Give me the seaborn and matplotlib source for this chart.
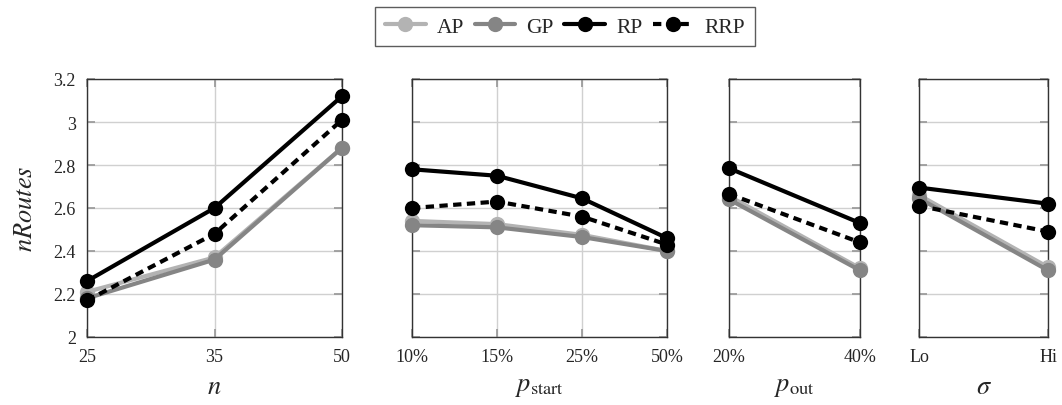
import pandas as pd
import seaborn as sns
import matplotlib.pyplot as plt
from matplotlib.lines import Line2D

sns.set_theme(style="whitegrid")
plt.rcParams['font.family'] = ['Liberation Serif', 'DejaVu Serif']
plt.rcParams['mathtext.fontset'] = 'stix'

# Values
methods = ['AP', 'GP', 'RP', 'RRP']

n_cats = ['25', '35', '50']
n_AP = [2.21, 2.37, 2.88]
n_GP = [2.18, 2.36, 2.88]
n_RP = [2.26, 2.60, 3.12]
n_RRP = [2.17, 2.48, 3.01]

pstart_cats = ['10%', '15%', '25%', '50%']
pstart_AP = [2.54, 2.525, 2.475, 2.40]
pstart_GP = [2.52, 2.51, 2.465, 2.40]
pstart_RP = [2.78, 2.75, 2.645, 2.46]
pstart_RRP = [2.60, 2.63, 2.56, 2.43]

pout_cats = ['20%', '40%']
pout_AP = [2.655, 2.32]
pout_GP = [2.64, 2.31]
pout_RP = [2.785, 2.53]
pout_RRP = [2.665, 2.44]

sigma_cats = ['Lo', 'Hi']
sigma_AP = [2.66, 2.325]
sigma_GP = [2.645, 2.31]
sigma_RP = [2.695, 2.62]
sigma_RRP = [2.61, 2.49]

yticks = [2, 2.2, 2.4, 2.6, 2.8, 3, 3.2]


def to_long(cats, ap, gp, rp, rrp):
    rows = []
    for name, vals in zip(methods, [ap, gp, rp, rrp]):
        for c, v in zip(cats, vals):
            rows.append({'x': c, 'value': v, 'method': name})
    return pd.DataFrame(rows)


panels = [
    (to_long(n_cats, n_AP, n_GP, n_RP, n_RRP), r'$n$'),
    (to_long(pstart_cats, pstart_AP, pstart_GP, pstart_RP, pstart_RRP), r'$p_{\mathrm{start}}$'),
    (to_long(pout_cats, pout_AP, pout_GP, pout_RP, pout_RRP), r'$p_{\mathrm{out}}$'),
    (to_long(sigma_cats, sigma_AP, sigma_GP, sigma_RP, sigma_RRP), r'$\sigma$'),
]

palette = {'AP': '#b3b3b3', 'GP': '#858585', 'RP': 'black', 'RRP': 'black'}
dashes = {'AP': '', 'GP': '', 'RP': '', 'RRP': (2, 1.3)}

W, H = 1062, 406
fig = plt.figure(figsize=(W / 100, H / 100), dpi=100)
boxes = [(87, 255), (412, 255), (729, 131), (919, 129)]
top, bottom = 80, 338

for i, ((df, xlabel), (left, width)) in enumerate(zip(panels, boxes)):
    ax = fig.add_axes([left / W, (H - bottom) / H, width / W, (bottom - top) / H])
    sns.lineplot(data=df, x='x', y='value', hue='method', style='method',
                 palette=palette, dashes=dashes, markers={m: 'o' for m in methods},
                 hue_order=methods, style_order=methods,
                 linewidth=3, markersize=11, markeredgewidth=0,
                 legend=False, ax=ax, clip_on=False, zorder=3)
    ncat = df['x'].nunique()
    ax.set_xlim(0, ncat - 1)
    ax.set_ylim(2, 3.2)
    ax.set_yticks(yticks)
    ax.grid(True, color='#d0d0d0', linewidth=1)
    for s in ax.spines.values():
        s.set_color('#333333')
        s.set_linewidth(1)
    ax.tick_params(axis='both', direction='in', length=6, color='#999999',
                   labelsize=13, top=True, right=True, bottom=True, left=True)
    ax.tick_params(axis='x', pad=8)
    ax.tick_params(axis='y', pad=8)
    ax.set_xlabel(xlabel, fontsize=19, labelpad=8)
    if i == 0:
        ax.set_yticklabels(['%g' % t for t in yticks])
        ax.set_ylabel(r'$nRoutes$', fontsize=19, labelpad=12)
    else:
        ax.set_yticklabels([])
        ax.set_ylabel('')
    ax.set_facecolor('white')

handles = []
for m in methods:
    handles.append(Line2D([], [], color=palette[m], linewidth=3, marker='o', markersize=11,
                          markeredgewidth=0, linestyle='--' if m == 'RRP' else '-',
                          dashes=(2, 1.3) if m == 'RRP' else (None, None)))
leg = fig.legend(handles, methods, loc='center', bbox_to_anchor=(565 / W, 1 - 27.5 / H),
                 ncol=4, fontsize=15.5, frameon=True, fancybox=False, handlelength=1.9,
                 handletextpad=0.5, columnspacing=0.5, borderpad=0.45)
leg.get_frame().set_edgecolor('#333333')
leg.get_frame().set_linewidth(1)

fig.savefig('out.png', dpi=100)
